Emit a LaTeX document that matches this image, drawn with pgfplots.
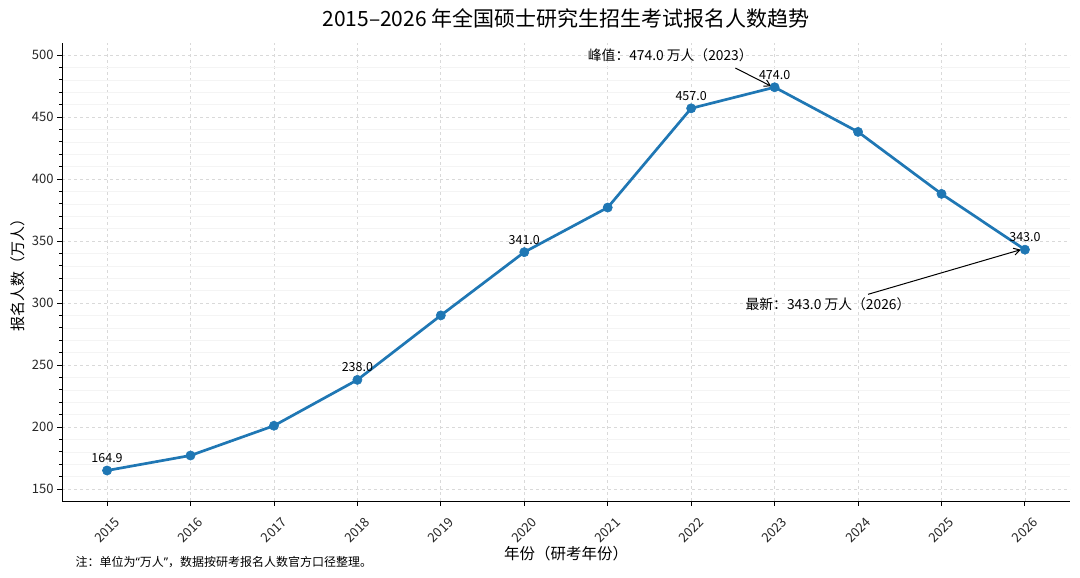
\documentclass[border=0pt]{standalone}
\usepackage{pgfplots}
\pgfplotsset{compat=1.18}
\usepackage{fontspec}
\setmainfont{Noto Sans CJK SC}
\newfontfamily\latinq{Noto Sans}
\usetikzlibrary{arrows.meta}
\definecolor{tabblue}{HTML}{1F77B4}
\definecolor{gridc}{HTML}{D9D9D9}
\definecolor{gridm}{HTML}{F4F4F4}
\begin{document}
\begin{tikzpicture}[x=1pt,y=1pt]
\useasboundingbox (0,0) rectangle (1080,578);
\begin{axis}[
    at={(62pt,77pt)}, anchor=south west,
    width=1008pt, height=458pt, scale only axis,
    xmin=2014.46, xmax=2026.54,
    ymin=140.3, ymax=509.7,
    xtick={2015,...,2026},
    ytick={150,200,...,500},
    minor x tick num=4,
    minor y tick num=4,
    axis lines*=left,
    axis line style={-, line width=0.9pt},
    tick align=outside,
    major tick length=5pt,
    minor tick length=3pt,
    every tick/.style={black, line width=0.8pt},
    grid=both,
    major grid style={dashed, gridc, line width=0.6pt},
    minor grid style={gridm, line width=0.5pt},
    /pgf/number format/assume math mode=true,
    /pgf/number format/1000 sep={},
    ticklabel style={font=\fontsize{13}{13}\selectfont, text=black!85},
    xticklabel style={anchor=center, yshift=-24pt, rotate=45},
    xlabel={年份（研考年份）},
    ylabel={报名人数（万人）},
    xlabel style={font=\fontsize{15.5}{15.5}\selectfont, at={(0.5,0)}, anchor=north, yshift=-42pt},
    ylabel style={font=\fontsize{15}{15}\selectfont},
    clip=false,
]
\addplot[tabblue, line width=2.7pt, mark=*, mark size=4.6pt,
    mark options={fill=tabblue, draw=tabblue, line width=0.6pt, solid}]
    coordinates {
    (2015,164.9) (2016,177) (2017,201) (2018,238) (2019,290) (2020,341)
    (2021,377) (2022,457) (2023,474) (2024,438) (2025,388) (2026,343)
};
\addplot[draw=none, nodes near coords, point meta=explicit symbolic,
    nodes near coords style={anchor=south, inner sep=0pt, yshift=7.5pt,
        font=\fontsize{12.5}{12.5}\selectfont, text=black}]
    coordinates {
    (2015,164.9)[164.9] (2018,238)[238.0] (2020,341)[341.0]
    (2022,457)[457.0] (2023,474)[474.0] (2026,343)[343.0]
};
\node[font=\fontsize{13.8}{13.8}\selectfont] at (axis cs:2021.75,500) {峰值：474.0 万人（2023）};
\draw[-{Straight Barb[length=6pt,width=7pt]}, line width=1pt] (axis cs:2022.53,489.5) -- (axis cs:2022.96,474.8);
\node[font=\fontsize{13.8}{13.8}\selectfont] at (axis cs:2023.64,299) {最新：343.0 万人（2026）};
\draw[-{Straight Barb[length=6pt,width=7pt]}, line width=1pt] (axis cs:2024.12,307) -- (axis cs:2025.95,343);
\end{axis}
\node[font=\fontsize{21}{21}\selectfont] at (566,560) {2015–2026 年全国硕士研究生招生考试报名人数趋势};
\node[anchor=west, font=\fontsize{12}{12}\selectfont] at (72,16) {注：单位为{\latinq “}万人{\latinq ”}，数据按研考报名人数官方口径整理。};
\end{tikzpicture}
\end{document}
